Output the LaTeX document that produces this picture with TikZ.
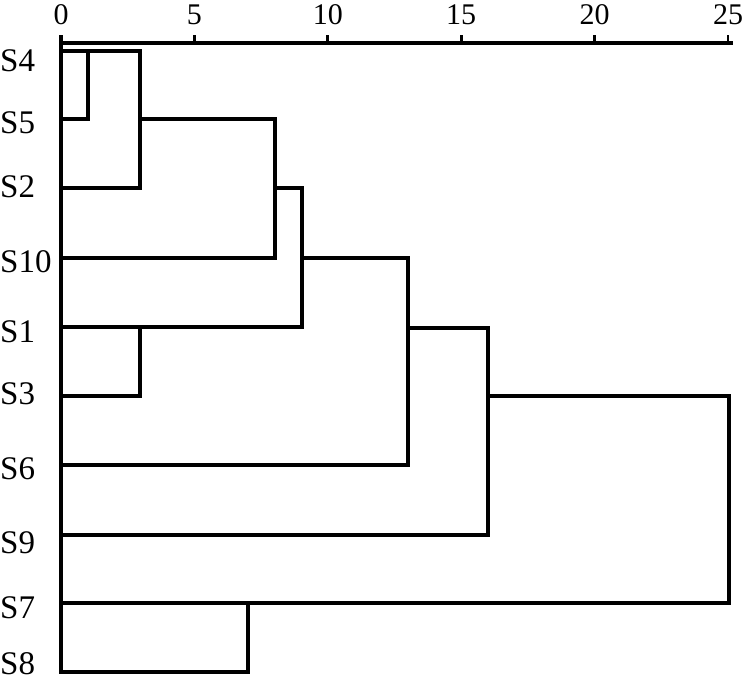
\documentclass[tikz,border=0pt]{standalone}
\usepackage{fontspec}
\setmainfont{Liberation Serif}
\begin{document}
\begin{tikzpicture}[x=1pt,y=-1pt,
  lbl/.style={font=\fontsize{33}{33}\selectfont, inner sep=0pt, anchor=west},
  tlbl/.style={font=\fontsize{30}{30}\selectfont, inner sep=0pt},
  dend/.style={line width=3.2pt, line join=miter, line cap=rect},
  axisline/.style={line width=3.2pt, line cap=rect}]
\useasboundingbox (0,0) rectangle (750,680);
% axis
\coordinate (a0) at (61,43);
\coordinate (aend) at (731,43);
\draw[axisline] (a0) -- (aend);
\foreach \k/\t in {0/0,5/5,10/10,15/15,20/20,25/25}{
  \coordinate (t\k) at ({61+26.68*\k},43);
  \draw[line width=2.8pt] (t\k) -- ++(0,-8);
  \node[tlbl] (n\k) at ({61+26.68*\k},15) {\t};
}
% leaf labels
\node[lbl] (S4) at (0,61) {S4};
\node[lbl] (S5) at (0,123) {S5};
\node[lbl] (S2) at (0,187) {S2};
\node[lbl] (S10) at (0,262) {S10};
\node[lbl] (S1) at (0,332) {S1};
\node[lbl] (S3) at (0,394) {S3};
\node[lbl] (S6) at (0,469) {S6};
\node[lbl] (S9) at (0,543) {S9};
\node[lbl] (S7) at (0,608) {S7};
\node[lbl] (S8) at (0,664) {S8};
% leaf coordinates
\coordinate (l4) at (61,51);
\coordinate (l5) at (61,119);
\coordinate (l2) at (61,188);
\coordinate (l10) at (61,258);
\coordinate (l1) at (61,327);
\coordinate (l3) at (61,396);
\coordinate (l6) at (61,465);
\coordinate (l9) at (61,535);
\coordinate (l7) at (61,603);
\coordinate (l8) at (61,672);
% left vertical
\draw[line width=4pt] (61,35) -- (61,674);
% dendrogram
\draw[dend] (l4) -- (140,51) -- (140,188) -- (l2);
\draw[dend] (l5) -- (88,119) -- (88,51);
\draw[dend] (140,119) -- (275,119) -- (275,258) -- (l10);
\draw[dend] (275,188) -- (302,188) -- (302,327) -- (l1);
\draw[dend] (140,327) -- (140,396) -- (l3);
\draw[dend] (302,258) -- (408,258) -- (408,465) -- (l6);
\draw[dend] (408,328) -- (488,328) -- (488,535) -- (l9);
\draw[dend] (488,396) -- (729,396) -- (729,603) -- (l7);
\draw[dend] (248,603) -- (248,672) -- (l8);
\end{tikzpicture}
\end{document}
